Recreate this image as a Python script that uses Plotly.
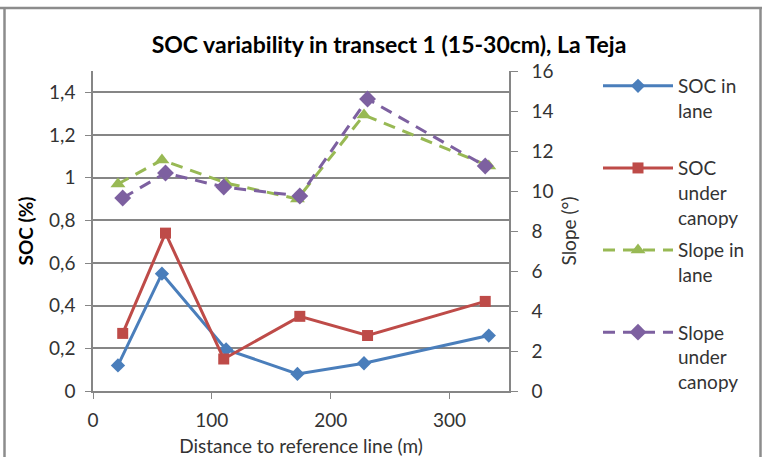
import plotly.graph_objects as go

# Data
x_lane = [21, 58, 112, 172, 228, 333]
x_canopy = [25, 61, 110, 174, 231, 330]
soc_lane = [0.12, 0.55, 0.195, 0.08, 0.13, 0.26]
soc_canopy = [0.27, 0.74, 0.15, 0.35, 0.26, 0.42]
slope_lane = [10.35, 11.55, 10.4, 9.6, 13.8, 11.25]
slope_canopy = [9.65, 10.9, 10.2, 9.75, 14.6, 11.25]

names = ["SOC in<br>lane<br> ", "SOC<br>under<br>canopy", "Slope in<br>lane<br> ", "Slope<br>under<br>canopy"]
title = "<b>SOC variability in transect 1 (15-30cm), La Teja</b>"
x_title = "Distance to reference line (m)"
y_title = "<b>SOC (%)</b>"
y2_title = "Slope (°)"

FONT = "Lato"
GRAY = "#868686"
TXT = "#333333"
FS = 19

fig = go.Figure()
fig.add_trace(go.Scatter(x=x_lane, y=soc_lane, name=names[0], mode="lines+markers",
                         line=dict(color="#4A7EBB", width=3),
                         marker=dict(symbol="diamond", size=11, color="#4A7EBB"),
                         legendgroup="a"))
fig.add_trace(go.Scatter(x=x_canopy, y=soc_canopy, name=names[1], mode="lines+markers",
                         line=dict(color="#BE4B48", width=3),
                         marker=dict(symbol="square", size=11, color="#BE4B48"),
                         legendgroup="b"))
fig.add_trace(go.Scatter(x=x_lane, y=slope_lane, name=names[2], mode="lines+markers",
                         line=dict(color="#98B954", width=3, dash="12px,8px"),
                         marker=dict(symbol="triangle-up", size=13, color="#98B954"),
                         yaxis="y2", legendgroup="c"))
fig.add_trace(go.Scatter(x=x_canopy, y=slope_canopy, name=names[3], mode="lines+markers",
                         line=dict(color="#7D60A0", width=3, dash="12px,8px"),
                         marker=dict(symbol="diamond", size=13, color="#7D60A0"),
                         yaxis="y2", legendgroup="d"))

L, R, T, B = 93, 509, 71, 391
W, H = 769, 457

def px_x(p):
    return (p - L) / (R - L)

def px_y(p):
    return (B - p) / (B - T)

fig.update_layout(
    width=W, height=H,
    margin=dict(l=L, r=W - R, t=T, b=H - B, autoexpand=False),
    paper_bgcolor="white", plot_bgcolor="white",
    separators=",.",
    font=dict(family=FONT, size=FS, color=TXT),
    title=dict(text=title, x=px_x(389), xanchor="center", xref="paper",
               y=1 - 45 / H, yanchor="middle",
               font=dict(family=FONT, size=23, color="black")),
    xaxis=dict(range=[0, 350], dtick=100, tick0=0, showgrid=False, automargin=False,
               showline=True, linecolor=GRAY, linewidth=1.5,
               ticks="outside", ticklen=6, tickcolor=GRAY, ticklabelstandoff=5,
               title=dict(text=x_title, standoff=10, font=dict(size=FS, color=TXT)),
               zeroline=False),
    yaxis=dict(range=[0, 1.5], tickvals=[0, 0.2, 0.4, 0.6, 0.8, 1.0, 1.2, 1.4],
               showgrid=True, gridcolor=GRAY, gridwidth=1.5, automargin=False,
               showline=True, linecolor=GRAY, linewidth=1.5,
               ticks="outside", ticklen=6, tickcolor=GRAY, ticklabelstandoff=6,
               title=dict(text=y_title, standoff=10, font=dict(size=FS, color="black")),
               zeroline=False, tickformat=".1~f"),
    yaxis2=dict(range=[0, 16], dtick=2, overlaying="y", side="right",
                showgrid=False, showline=True, linecolor=GRAY, linewidth=1.5, automargin=False,
                ticks="outside", ticklen=7, tickcolor=GRAY, ticklabelstandoff=10,
                title=dict(text=y2_title, standoff=10, font=dict(size=FS, color=TXT)),
                zeroline=False),
    legend=dict(x=px_x(598), y=px_y(67), xanchor="left", yanchor="top",
                valign="top", traceorder="grouped", tracegroupgap=5,
                itemwidth=70, font=dict(family=FONT, size=FS, color=TXT),
                bgcolor="rgba(0,0,0,0)"),
    showlegend=True,
)
try:
    fig.update_layout(legend_maxheight=420)
except Exception:
    pass

# chart frame (partial border as in the reference)
frame = dict(type="line", xref="paper", yref="paper", line=dict(color="#8C8C8C", width=2.5))
fig.add_shape(**frame, x0=px_x(0), x1=px_x(762), y0=px_y(8), y1=px_y(8))
fig.add_shape(**frame, x0=px_x(4.5), x1=px_x(4.5), y0=px_y(8), y1=px_y(460))
fig.add_shape(**frame, x0=px_x(760.5), x1=px_x(760.5), y0=px_y(8), y1=px_y(460))

fig.write_html("out.html")
